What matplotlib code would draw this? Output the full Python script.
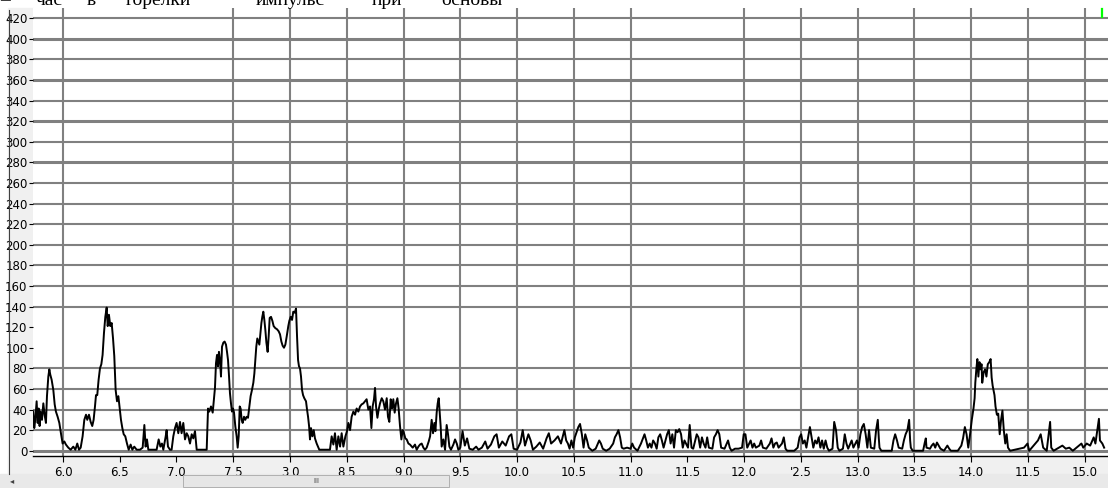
import matplotlib
matplotlib.use("Agg")
import matplotlib.pyplot as plt
from matplotlib.lines import Line2D
from matplotlib.patches import Rectangle

W, H = 1108, 488

# signal trace: time (x) and amplitude (y)
time_axis = [
  5.739, 5.747, 5.756, 5.768, 5.777, 5.786, 5.794, 5.803, 5.815, 5.827, 5.838, 5.850,
  5.859, 5.871, 5.880, 5.888, 5.900, 5.915, 5.927, 5.938, 5.953, 5.968, 5.982, 5.997,
  6.012, 6.026, 6.047, 6.068, 6.091, 6.109, 6.126, 6.141, 6.156, 6.173, 6.188, 6.203,
  6.214, 6.229, 6.244, 6.258, 6.270, 6.282, 6.291, 6.302, 6.314, 6.326, 6.338, 6.349,
  6.361, 6.373, 6.385, 6.394, 6.405, 6.417, 6.429, 6.441, 6.452, 6.464, 6.476, 6.488,
  6.500, 6.511, 6.523, 6.535, 6.549, 6.564, 6.579, 6.596, 6.611, 6.628, 6.649, 6.678,
  6.702, 6.717, 6.728, 6.740, 6.752, 6.781, 6.825, 6.843, 6.858, 6.872, 6.884, 6.905,
  6.913, 6.925, 6.943, 6.957, 6.972, 6.987, 7.001, 7.016, 7.031, 7.045, 7.060, 7.075,
  7.090, 7.104, 7.119, 7.134, 7.148, 7.163, 7.178, 7.207, 7.236, 7.266,
  7.278, 7.289, 7.304, 7.319, 7.330, 7.339, 7.348, 7.357, 7.366, 7.374, 7.383, 7.392,
  7.401, 7.413, 7.424, 7.436, 7.445, 7.454, 7.463, 7.471, 7.480, 7.489, 7.498, 7.507,
  7.518, 7.530, 7.539, 7.548, 7.557, 7.565, 7.574, 7.583, 7.595, 7.606, 7.618, 7.630,
  7.642, 7.653, 7.665, 7.677, 7.686, 7.694, 7.703, 7.712, 7.721, 7.730, 7.739, 7.748,
  7.756, 7.765, 7.774, 7.783, 7.792, 7.803, 7.812, 7.821, 7.833, 7.845, 7.856, 7.871,
  7.885, 7.900, 7.912, 7.924, 7.935, 7.947, 7.959, 7.971, 7.985, 7.994, 8.006, 8.018,
  8.029, 8.041, 8.053, 8.062, 8.071, 8.079, 8.088, 8.097, 8.106, 8.115, 8.126, 8.141,
  8.150, 8.159, 8.168, 8.176, 8.185, 8.197, 8.209, 8.220, 8.235, 8.258, 8.352, 8.367,
  8.382, 8.396, 8.411, 8.426, 8.441, 8.455, 8.470, 8.488, 8.502, 8.514, 8.529, 8.543,
  8.558, 8.573, 8.587, 8.602, 8.617, 8.631, 8.646, 8.661, 8.675, 8.690, 8.705, 8.717,
  8.728, 8.740, 8.749, 8.758, 8.770, 8.781, 8.793, 8.808, 8.822, 8.837, 8.852, 8.863,
  8.875, 8.887, 8.899, 8.910, 8.922, 8.934, 8.946, 8.957, 8.969, 8.981, 8.993, 9.004,
  9.016, 9.028, 9.043, 9.057, 9.081, 9.101, 9.116, 9.131, 9.145, 9.160, 9.175, 9.189,
  9.204, 9.222, 9.234, 9.248, 9.260, 9.272, 9.281, 9.292, 9.301, 9.310, 9.319, 9.327,
  9.336, 9.351, 9.366, 9.380, 9.392, 9.404, 9.418, 9.439, 9.454, 9.469, 9.483,
  9.500, 9.520, 9.540, 9.560, 9.580, 9.610, 9.640, 9.660, 9.690, 9.720, 9.740, 9.770,
  9.800, 9.820, 9.840, 9.870, 9.900, 9.930, 9.950, 9.970, 10.000, 10.030, 10.050, 10.070,
  10.100, 10.120, 10.140, 10.170, 10.200, 10.230, 10.260, 10.280, 10.300, 10.330, 10.360,
  10.387, 10.417, 10.433, 10.448, 10.463, 10.479, 10.494, 10.509, 10.525, 10.540, 10.555,
  10.571, 10.586, 10.601, 10.617, 10.632, 10.663, 10.693, 10.724, 10.739, 10.755, 10.785,
  10.816, 10.847, 10.862, 10.877, 10.893, 10.908, 10.923, 10.939, 10.969, 11.000, 11.015,
  11.031, 11.061, 11.092, 11.123, 11.138, 11.153, 11.169, 11.184, 11.199, 11.215, 11.230,
  11.245, 11.261, 11.276, 11.291, 11.322, 11.337, 11.353, 11.368, 11.383, 11.399, 11.414,
  11.429, 11.445, 11.460, 11.475, 11.506, 11.521, 11.537, 11.552, 11.583, 11.598, 11.613,
  11.629, 11.644, 11.660, 11.675, 11.690, 11.721, 11.736, 11.752, 11.767, 11.782, 11.798,
  11.828, 11.859, 11.874, 11.890, 11.920, 11.951, 11.982, 11.997, 12.012, 12.028, 12.058,
  12.074, 12.089, 12.104, 12.135, 12.150, 12.166, 12.196, 12.227, 12.242, 12.258, 12.273,
  12.288, 12.304, 12.334, 12.350, 12.365, 12.380, 12.442, 12.472, 12.488, 12.503, 12.518,
  12.534, 12.549, 12.564, 12.580, 12.595, 12.610, 12.626, 12.641, 12.656, 12.672, 12.687,
  12.702, 12.718, 12.733, 12.748, 12.779, 12.794, 12.810, 12.825, 12.840, 12.871, 12.887,
  12.902, 12.917, 12.948, 12.963, 12.994, 13.009, 13.025, 13.040, 13.055, 13.071, 13.086,
  13.101, 13.117, 13.147, 13.163, 13.178, 13.187, 13.193, 13.209, 13.301, 13.316, 13.331,
  13.347, 13.362, 13.393, 13.408, 13.423, 13.439, 13.454, 13.463, 13.469, 13.485, 13.577,
  13.592, 13.601, 13.607, 13.638, 13.653, 13.669, 13.684, 13.699, 13.715, 13.730, 13.761,
  13.791, 13.807, 13.822, 13.883, 13.914, 13.929, 13.945, 13.960, 13.975, 13.991, 14.006,
  14.021, 14.031, 14.037, 14.046, 14.055, 14.064, 14.074, 14.083, 14.092, 14.098, 14.110,
  14.123, 14.135, 14.147, 14.160, 14.172, 14.181, 14.190, 14.206, 14.215, 14.227, 14.239,
  14.252, 14.264, 14.276, 14.288, 14.301, 14.313, 14.325, 14.344, 14.466, 14.497, 14.512,
  14.589, 14.613, 14.635, 14.666, 14.696, 14.706, 14.727, 14.804, 14.834, 14.865, 14.896,
  14.972, 14.988, 15.018, 15.049, 15.080, 15.095, 15.126, 15.135, 15.156, 15.172,
]
signal = [
  38, 22, 30, 48, 27, 41, 24, 38, 30, 46, 35, 27,
  53, 72, 79, 74, 69, 59, 45, 38, 33, 27, 17, 7,
  9, 6, 3, 1, 4, 1, 7, 1, 3, 14, 30, 35,
  30, 35, 28, 24, 30, 43, 54, 54, 69, 80, 84, 93,
  114, 130, 139, 121, 132, 121, 124, 109, 92, 59, 48, 53,
  41, 30, 22, 16, 14, 7, 1, 6, 1, 4, 1, 1,
  3, 25, 4, 11, 1, 1, 1, 11, 4, 7, 1, 14,
  20, 4, 1, 1, 14, 22, 27, 17, 28, 17, 27, 11,
  17, 14, 7, 16, 12, 19, 1, 1, 1, 1,
  41, 38, 43, 37, 50, 61, 85, 93, 82, 96, 88, 72,
  101, 105, 106, 103, 96, 88, 72, 56, 46, 38, 41, 37,
  24, 14, 3, 14, 43, 41, 30, 27, 33, 30, 33, 32,
  43, 53, 59, 66, 75, 87, 101, 109, 106, 103, 113, 124,
  130, 135, 127, 117, 105, 96, 111, 129, 130, 126, 121, 119,
  118, 116, 113, 106, 102, 100, 103, 111, 121, 126, 130, 127,
  135, 134, 138, 111, 88, 82, 80, 72, 59, 54, 51, 48,
  40, 33, 24, 11, 22, 14, 20, 12, 7, 1, 1, 14,
  6, 17, 1, 14, 4, 17, 4, 14, 19, 27, 20, 33,
  38, 35, 41, 38, 43, 45, 46, 48, 50, 40, 43, 22,
  43, 50, 61, 43, 32, 40, 46, 51, 48, 40, 51, 33,
  28, 50, 41, 50, 37, 46, 51, 41, 24, 11, 20, 17,
  12, 11, 7, 6, 3, 6, 1, 4, 6, 7, 3, 1,
  3, 9, 14, 30, 17, 27, 19, 37, 46, 51, 37, 24,
  4, 11, 1, 25, 16, 4, 1, 6, 11, 7, 1,
  3, 19, 5, 12, 2, 1, 4, 1, 3, 9, 2, 6,
  14, 16, 3, 9, 5, 14, 16, 2, 1, 8, 20, 5,
  16, 10, 1, 4, 8, 2, 12, 17, 7, 10, 14,
  7, 20, 10, 7, 2, 10, 3, 13, 18, 23, 26,
  16, 3, 16, 10, 3, 0, 2, 10, 7, 2, 0,
  2, 7, 13, 16, 20, 13, 3, 2, 3, 2, 7,
  3, 0, 7, 16, 10, 3, 7, 3, 10, 7, 2,
  13, 16, 10, 3, 16, 20, 7, 16, 3, 20, 18,
  21, 16, 3, 10, 3, 25, 3, 2, 16, 13, 3,
  13, 7, 3, 13, 3, 2, 13, 16, 20, 16, 3,
  2, 10, 3, 0, 2, 2, 3, 16, 16, 3, 10,
  3, 7, 3, 5, 10, 3, 2, 7, 12, 3, 7,
  8, 3, 7, 13, 2, 0, 0, 3, 13, 16, 7,
  10, 3, 13, 23, 13, 3, 10, 7, 13, 3, 10,
  2, 10, 3, 0, 2, 28, 20, 3, 0, 2, 16,
  7, 2, 10, 3, 10, 3, 16, 23, 26, 16, 3,
  20, 3, 2, 20, 30, 12, 3, 0, 0, 10, 16,
  10, 3, 2, 10, 16, 20, 30, 10, 3, 0, 0,
  8, 12, 3, 2, 5, 7, 3, 8, 5, 2, 0,
  5, 2, 0, 0, 5, 12, 23, 16, 3, 16, 30,
  41, 51, 66, 79, 89, 72, 86, 79, 84, 66, 76,
  79, 72, 84, 86, 89, 71, 63, 54, 43, 35, 36,
  16, 30, 39, 20, 7, 16, 3, 0, 3, 7, 0,
  10, 16, 3, 0, 28, 3, 0, 5, 2, 3, 0,
  7, 3, 7, 5, 13, 7, 31, 10, 7, 3,
]

y_ticks = list(range(0, 421, 20))
x_ticks = [6.0, 6.5, 7.0, 7.5, 8.0, 8.5, 9.0, 9.5, 10.0, 10.5, 11.0, 11.5, 12.0,
           12.5, 13.0, 13.5, 14.0, 14.5, 15.0]
x_tick_labels = ["6.0", "6.5", "7.0", "7.5", "3.0", "8.5", "9.0", "9.5", "10.0", "10.5",
                 "11.0", "11.5", "12.0", "'2.5", "13.0", "13.5", "14.0", "11.5", "15.0"]
grid_y = [v for v in y_ticks if v not in (100, 120)]
heavy_grid_y = [0, 280, 320, 360, 400]
grid_x = [6.0, 7.5, 8.0, 8.5, 9.0, 9.5, 10.0, 10.5, 11.0, 12.0, 12.5, 13.0, 13.5,
          14.0, 14.5, 15.0]
heading_words = ["–", "час", "в", "горелки", "импульс", "при", "основы"]
heading_x = [0, 36, 87, 126, 256, 372, 441]


def px(x):
  return x / W


def py(y):
  return 1 - y / H


fig = plt.figure(figsize=(W / 100, H / 100), dpi=100, facecolor="white")

# window chrome: gray left panel, bottom strip, border line, scrollbar
fig.add_artist(Rectangle((px(8), py(474)), px(25), 466 / H, color="#f0f0f0", zorder=0))
fig.add_artist(Rectangle((px(8), py(474)), px(1100), 18 / H, color="#f0f0f0", zorder=0))
fig.add_artist(Line2D([px(8.5)] * 2, [py(10), py(474)], color="#404040", lw=0.8))
fig.add_artist(Rectangle((0, 0), 1, 14 / H, color="#e9e9e9", zorder=0))
fig.add_artist(Rectangle((px(183), py(487)), px(266), 12 / H, facecolor="#e6e6e6",
                         edgecolor="#b0b0b0", lw=0.7))
fig.text(px(316), py(481), "III", fontsize=5, ha="center", va="center", color="#404040")
fig.text(px(12), py(481), "◂", fontsize=6, ha="center", va="center", color="#404040")

# green status mark in the corner
fig.add_artist(Line2D([px(1102)] * 2, [py(9), py(17)], color="#00ff00", lw=1.6))

# heading runs off the top edge, only its lower part shows
for word, x in zip(heading_words, heading_x):
  fig.text(px(x), py(5), word, fontsize=14, family="Liberation Serif",
           va="baseline", ha="left", color="black")

ax = fig.add_axes([px(33), py(456), px(1080), 448 / H])
ax.set_facecolor("white")
ax.set_xlim(5.736, 15.25)
ax.set_ylim(-5.1, 429.8)

for v in grid_y:
  ax.axhline(v, color="#808080", lw=2.2 if v in heavy_grid_y else 1.5, zorder=1)
for v in grid_x:
  ax.axvline(v, color="#808080", lw=1.5, zorder=1)

ax.plot(time_axis, signal, color="black", lw=1.4, zorder=3)

for side in ("left", "top", "right"):
  ax.spines[side].set_visible(False)
ax.spines["bottom"].set_color("black")
ax.spines["bottom"].set_linewidth(1.0)

tick_font = {"family": ["Liberation Sans Narrow", "DejaVu Sans"], "size": 8.5}
ax.set_yticks(y_ticks)
ax.set_yticklabels([str(v) for v in y_ticks], fontdict=tick_font)
ax.set_xticks(x_ticks)
ax.set_xticklabels(x_tick_labels, fontdict=tick_font)
ax.tick_params(axis="y", length=3, width=0.8, pad=1, color="black")
ax.tick_params(axis="x", length=4, width=0.8, pad=3, color="black")

fig.savefig("out.png", dpi=100, facecolor=fig.get_facecolor())
